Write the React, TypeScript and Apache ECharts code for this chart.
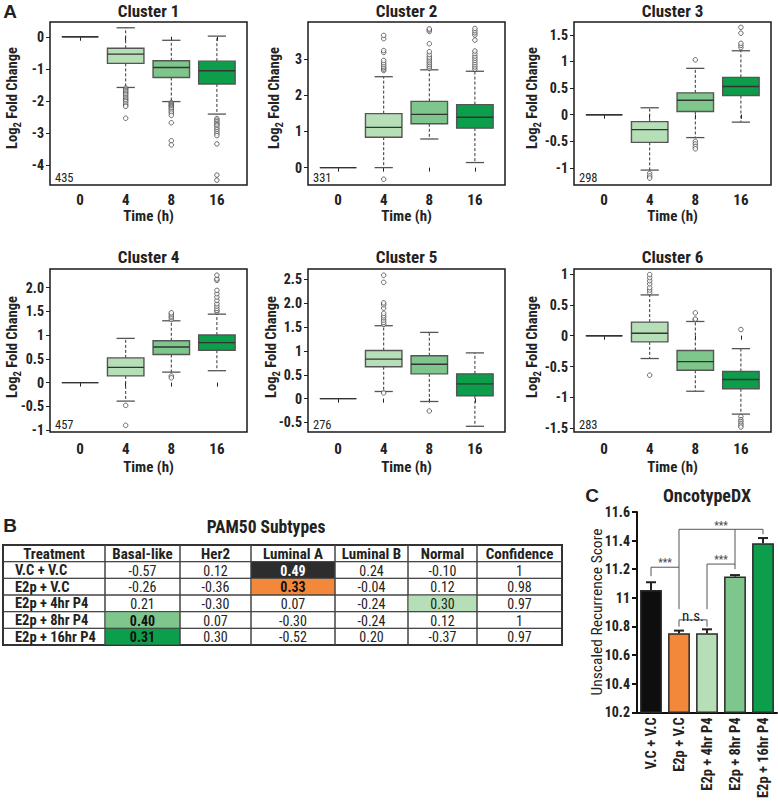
import React, { useEffect, useRef } from 'react';
import * as echarts from 'echarts';

const FONT = "'Liberation Sans Narrow', 'Arial Narrow', 'Roboto Condensed', 'DejaVu Sans Condensed', sans-serif";
const FONT_WIDE = "'Liberation Sans', Arial, sans-serif";

// ---------- Panel A data ----------
const TIMES = ['0', '4', '8', '16'];
const CLUSTER_NAMES = ['Cluster 1', 'Cluster 2', 'Cluster 3', 'Cluster 4', 'Cluster 5', 'Cluster 6'];
const CLUSTER_SIZES = [435, 331, 298, 457, 276, 283];

// [lower whisker, Q1, median, Q3, upper whisker] for 0, 4, 8, 16 h
const c1Box = [[0, 0, 0, 0, 0], [-1.58, -0.83, -0.54, -0.36, 0.28], [-2.02, -1.27, -0.96, -0.75, -0.11], [-2.41, -1.47, -1.06, -0.76, 0.02]];
const c2Box = [[0, 0, 0, 0, 0], [0.0, 0.84, 1.11, 1.49, 2.51], [0.79, 1.21, 1.47, 1.83, 2.70], [0.14, 1.09, 1.39, 1.74, 2.66]];
const c3Box = [[0, 0, 0, 0, 0], [-1.04, -0.52, -0.28, -0.13, 0.13], [-0.43, 0.06, 0.27, 0.41, 0.87], [-0.14, 0.36, 0.53, 0.70, 1.20]];
const c4Box = [[0, 0, 0, 0, 0], [-0.39, 0.14, 0.32, 0.52, 0.93], [0.22, 0.59, 0.75, 0.88, 1.30], [0.25, 0.68, 0.84, 1.00, 1.44]];
const c5Box = [[0, 0, 0, 0, 0], [0.15, 0.67, 0.83, 1.01, 1.53], [-0.06, 0.52, 0.72, 0.90, 1.39], [-0.58, 0.06, 0.31, 0.52, 0.96]];
const c6Box = [[0, 0, 0, 0, 0], [-0.37, -0.10, 0.04, 0.22, 0.66], [-0.90, -0.56, -0.42, -0.24, 0.23], [-1.27, -0.86, -0.71, -0.58, -0.21]];

// outliers for 0, 4, 8, 16 h
const c1Out = [[], [-1.60, -1.64, -1.68, -1.72, -1.76, -1.80, -1.85, -1.90, -1.94, -1.98, -2.02, -2.08, -2.13, -2.17, -2.54],
  [-2.05, -2.08, -2.11, -2.14, -2.17, -2.20, -2.24, -2.28, -2.33, -2.38, -2.45, -2.68, -3.24, -3.37],
  [-2.55, -2.60, -2.65, -2.70, -2.74, -2.78, -2.85, -2.90, -2.96, -3.02, -3.08, -3.34, -4.31, -4.47]];
const c2Out = [[], [-0.32, 2.68, 2.72, 2.76, 2.80, 2.85, 2.90, 2.96, 3.18, 3.23, 3.56, 3.65],
  [2.75, 2.80, 2.85, 2.90, 2.95, 3.00, 3.05, 3.12, 3.20, 3.42, 3.76, 3.80, 3.83],
  [2.72, 2.78, 2.84, 2.90, 2.96, 3.02, 3.08, 3.15, 3.22, 3.52, 3.66, 3.72, 3.78, 3.84]];
const c3Out = [[], [-1.10, -1.15, -1.19], [1.03, -0.50, -0.55, -0.60, -0.64], [1.26, 1.30, 1.34, 1.53, 1.64]];
const c4Out = [[], [-0.48, -0.90], [1.33, 1.37, 1.40, 1.44, 1.47, 0.14, 0.10],
  [1.49, 1.52, 1.56, 1.61, 1.66, 1.73, 1.80, 1.87, 1.94, 2.15, 2.18, 2.26]];
const c5Out = [[], [0.12, 1.56, 1.60, 1.65, 1.70, 1.74, 1.79, 1.90, 1.97, 2.01, 2.44, 2.59], [-0.26], []];
const c6Out = [[], [-0.64, 0.70, 0.74, 0.78, 0.84, 0.89, 0.94, 0.99], [0.26, 0.27, 0.37], [0.10, -1.31, -1.36, -1.39, -1.42, -1.45, -1.48]];

// y axis ranges and tick labels
const c1Range = [-4.62, 0.46];
const c2Range = [-0.48, 4.02];
const c3Range = [-1.32, 1.74];
const c4Range = [-1.04, 2.39];
const c5Range = [-0.70, 2.72];
const c6Range = [-1.56, 1.08];
const c1Ticks = [-4, -3, -2, -1, 0];
const c1TickLabels = ['-4', '-3', '-2', '-1', '0'];
const c2Ticks = [0, 1, 2, 3];
const c2TickLabels = ['0', '1', '2', '3'];
const c3Ticks = [-1, -0.5, 0, 0.5, 1, 1.5];
const c3TickLabels = ['-1', '-0.5', '0', '0.5', '1', '1.5'];
const c4Ticks = [-1, -0.5, 0, 0.5, 1, 1.5, 2];
const c4TickLabels = ['-1', '-0.5', '0', '0.5', '1', '1.5', '2.0'];
const c5Ticks = [-0.5, 0, 0.5, 1, 1.5, 2, 2.5];
const c5TickLabels = ['-0.5', '0', '0.5', '1', '1.5', '2.0', '2.5'];
const c6Ticks = [-1.5, -1, -0.5, 0, 0.5, 1];
const c6TickLabels = ['-1.5', '-1', '-0.5', '0', '0.5', '1'];

// ---------- Panel B data ----------
const TREATMENTS = ['V.C + V.C', 'E2p + V.C', 'E2p + 4hr P4', 'E2p + 8hr P4', 'E2p + 16hr P4'];
const SUBTYPES = ['Basal-like', 'Her2', 'Luminal A', 'Luminal B', 'Normal'];
const basalLike = [-0.57, -0.26, 0.21, 0.40, 0.31];
const her2 = [0.12, -0.36, -0.30, 0.07, 0.30];
const luminalA = [0.49, 0.33, 0.07, -0.30, -0.52];
const luminalB = [0.24, -0.04, -0.24, -0.24, 0.20];
const normal = [-0.10, 0.12, 0.30, 0.12, -0.37];
const confidence = [1, 0.98, 0.97, 1, 0.97];

// ---------- Panel C data ----------
const oncoMean = [11.055, 10.753, 10.753, 11.150, 11.382];
const oncoUpper = [11.109, 10.771, 10.780, 11.159, 11.418];
const ONCO_TICK_MIN = 10.2;
const ONCO_TICK_MAX = 11.6;
const ONCO_TICK_STEP = 0.2;
// significance brackets: [x1, y1, x2, y2] in (bar index, score)
const bracketSegments = [
  [0, 11.152, 0, 11.214], [0, 11.214, 1, 11.214],
  [1, 10.921, 1, 11.479], [1, 11.479, 4, 11.479], [4, 11.479, 4, 11.445],
  [3, 11.479, 3, 11.200],
  [2, 10.921, 2, 11.236], [2, 11.236, 3, 11.236],
  [1, 10.799, 1, 10.846], [1, 10.846, 2, 10.846], [2, 10.846, 2, 10.799],
];
// [from bar, to bar, score] label anchors
const sigAnchors = [[0, 1, 11.245], [2, 3, 11.265], [2, 2.8, 11.508], [1, 2, 10.875]];
const sigTexts = ['***', '***', '***', 'n.s.'];

// ---------- styles ----------
const BOX_FILL = ['#ffffff', '#b6deb7', '#7fc68d', '#0c9e4b'];
const BAR_FILL = ['#0e0e0e', '#f4883a', '#b6deb7', '#7fc68d', '#0c9e4b'];
const CELL_HIGHLIGHT = ['#2d2d2d', '#f4883a', '#b6deb7', '#7fc68d', '#0c9e4b'];
const CELL_HIGHLIGHT_TEXT = ['#ffffff', '#111111', '#222222', '#111111', '#111111'];
const CELL_HIGHLIGHT_BOLD = [true, true, false, true, true];
const COL_LEFT = [50, 308, 574];
const ROW_TOP = [22, 269];
const GRID_W = 197;
const GRID_H = 163;
const TITLE_Y = [11, 257];
const YTITLE_X = [12, 274, 532, 12, 271, 532];
const YTITLE_Y = [98, 347];
const XLABEL_MARGIN = [7, 9];
const XNAME_GAP = [23, 27];
const COL_WIDTHS = [102, 75, 71, 84, 73, 69, 85];

const CLUSTERS = [
  { box: c1Box, out: c1Out, range: c1Range, ticks: c1Ticks, labels: c1TickLabels },
  { box: c2Box, out: c2Out, range: c2Range, ticks: c2Ticks, labels: c2TickLabels },
  { box: c3Box, out: c3Out, range: c3Range, ticks: c3Ticks, labels: c3TickLabels },
  { box: c4Box, out: c4Out, range: c4Range, ticks: c4Ticks, labels: c4TickLabels },
  { box: c5Box, out: c5Out, range: c5Range, ticks: c5Ticks, labels: c5TickLabels },
  { box: c6Box, out: c6Out, range: c6Range, ticks: c6Ticks, labels: c6TickLabels },
];

let measureCtx: CanvasRenderingContext2D | null = null;
function measure(t: string, size: number, weight: string) {
  if (!measureCtx) measureCtx = document.createElement('canvas').getContext('2d');
  if (!measureCtx) return t.length * size * 0.5;
  measureCtx.font = `${weight} ${size}px ${FONT}`;
  return measureCtx.measureText(t).width;
}

function text(x: number, y: number, t: string, size: number, weight: string, extra: any = {}) {
  return {
    type: 'text', x, y, silent: true,
    style: {
      text: t, fontSize: size, fontWeight: weight, fontFamily: FONT, fill: '#222',
      align: 'center', verticalAlign: 'middle', textAlign: 'center', textVerticalAlign: 'middle', ...extra,
    },
  };
}

function subscriptTitle(cx: number, cy: number) {
  const S = 14.5, s = 10.5;
  const w1 = measure('Log', S, 'bold');
  const w2 = measure('2', s, 'bold');
  const w3 = measure(' Fold Change', S, 'bold');
  const x0 = -(w1 + w2 + w3) / 2;
  const mk = (x: number, y: number, t: string, size: number) => ({
    type: 'text', x, y, silent: true,
    style: { text: t, fontSize: size, fontWeight: 'bold', fontFamily: FONT, fill: '#222', align: 'left', textAlign: 'left', verticalAlign: 'middle', textVerticalAlign: 'middle' },
  });
  return {
    type: 'group', x: cx, y: cy, rotation: Math.PI / 2, silent: true,
    children: [mk(x0, 0, 'Log', S), mk(x0 + w1, 5, '2', s), mk(x0 + w1 + w2, 0, ' Fold Change', S)],
  };
}

function boxRender(params: any, api: any) {
  const x = api.value(0);
  const lo = api.value(1), q1 = api.value(2), med = api.value(3), q3 = api.value(4), hi = api.value(5);
  const half = 0.4, cap = 0.2;
  const p = (xx: number, v: number) => api.coord([xx, v]);
  const tl = p(x - half, q3), br = p(x + half, q1);
  const children: any[] = [];
  const dash = { stroke: '#333', lineWidth: 1, lineDash: [3, 2] };
  const solid = { stroke: '#555', lineWidth: 1.3 };
  if (hi > q3) {
    const a = p(x, q3), b = p(x, hi);
    children.push({ type: 'line', shape: { x1: a[0], y1: a[1], x2: b[0], y2: b[1] }, style: dash });
    const c1 = p(x - cap, hi), c2 = p(x + cap, hi);
    children.push({ type: 'line', shape: { x1: c1[0], y1: c1[1], x2: c2[0], y2: c2[1] }, style: solid });
  }
  if (lo < q1) {
    const a = p(x, q1), b = p(x, lo);
    children.push({ type: 'line', shape: { x1: a[0], y1: a[1], x2: b[0], y2: b[1] }, style: dash });
    const c1 = p(x - cap, lo), c2 = p(x + cap, lo);
    children.push({ type: 'line', shape: { x1: c1[0], y1: c1[1], x2: c2[0], y2: c2[1] }, style: solid });
  }
  children.push({
    type: 'rect', shape: { x: tl[0], y: tl[1], width: br[0] - tl[0], height: br[1] - tl[1] },
    style: { fill: BOX_FILL[params.dataIndex], stroke: '#555', lineWidth: 1.4 },
  });
  const m1 = p(x - half, med), m2 = p(x + half, med);
  children.push({ type: 'line', shape: { x1: m1[0], y1: m1[1], x2: m2[0], y2: m2[1] }, style: { stroke: '#333', lineWidth: 1.4 } });
  return { type: 'group', children };
}

const COL_EDGES = (() => {
  const total = COL_WIDTHS.reduce((a, b) => a + b, 0);
  const e = [0];
  COL_WIDTHS.forEach((w) => e.push(e[e.length - 1] + w / total));
  return e;
})();
const TABLE_HEADER = ['Treatment', ...SUBTYPES, 'Confidence'];
const SUBTYPE_SCORES = [basalLike, her2, luminalA, luminalB, normal];

function tableRender(params: any, api: any) {
  const c = api.value(0), r = api.value(1);
  const xl = api.coord([COL_EDGES[c], r])[0];
  const xr = api.coord([COL_EDGES[c + 1], r])[0];
  const cy = api.coord([0, r])[1];
  const h = api.size([0, 1])[1];
  let t = '', bold = false, fill = 'none', color = '#222', align = 'center', tx = (xl + xr) / 2, size = 14;
  if (r === 0) { t = TABLE_HEADER[c]; bold = true; size = 15; }
  else if (c === 0) { t = TREATMENTS[r - 1]; bold = true; align = 'left'; tx = xl + 12; size = 14.5; }
  else if (c <= SUBTYPES.length) {
    const v = SUBTYPE_SCORES[c - 1][r - 1];
    t = v.toFixed(2);
    const rowMax = Math.max(...SUBTYPE_SCORES.map((s) => s[r - 1]));
    if (v === rowMax) {
      fill = CELL_HIGHLIGHT[r - 1]; color = CELL_HIGHLIGHT_TEXT[r - 1]; bold = CELL_HIGHLIGHT_BOLD[r - 1];
    }
  } else { t = String(confidence[r - 1]); }
  return {
    type: 'group',
    children: [
      { type: 'rect', shape: { x: xl, y: cy - h / 2, width: xr - xl, height: h }, style: { fill, stroke: '#444', lineWidth: 1 } },
      {
        type: 'text', x: tx, y: cy + 0.5,
        style: { text: t, fill: color, fontSize: size, fontWeight: bold ? 'bold' : 'normal', fontFamily: FONT, align, textAlign: align, verticalAlign: 'middle', textVerticalAlign: 'middle' },
      },
    ],
  };
}

function buildOption() {
  const grid: any[] = [], xAxis: any[] = [], yAxis: any[] = [], series: any[] = [], graphics: any[] = [];
  const axisFont = { fontFamily: FONT, fontWeight: 'bold', color: '#222' };

  CLUSTERS.forEach((cl, i) => {
    const col = i % 3, row = Math.floor(i / 3);
    const left = COL_LEFT[col], top = ROW_TOP[row];
    grid.push({ left, top, width: GRID_W, height: GRID_H, show: true, borderColor: '#1a1a1a', borderWidth: 1.5, backgroundColor: 'transparent' });
    xAxis.push({
      gridIndex: i, type: 'value', min: 0.34, max: 4.66,
      name: 'Time (h)', nameLocation: 'middle', nameGap: XNAME_GAP[row],
      nameTextStyle: { ...axisFont, fontSize: 15 },
      axisLine: { show: false }, splitLine: { show: false },
      axisTick: { show: true, customValues: [1, 2, 3, 4], length: 4, lineStyle: { color: '#222', width: 1 } },
      axisLabel: { customValues: [1, 2, 3, 4], formatter: (v: number) => TIMES[Math.round(v) - 1], margin: XLABEL_MARGIN[row], fontSize: 15, ...axisFont },
    });
    yAxis.push({
      gridIndex: i, type: 'value', min: cl.range[0], max: cl.range[1],
      axisLine: { show: false }, splitLine: { show: false },
      axisTick: { show: true, customValues: cl.ticks, length: 4, lineStyle: { color: '#222', width: 1 } },
      axisLabel: {
        customValues: cl.ticks, margin: 6, fontSize: 14, ...axisFont,
        formatter: (v: number) => { const k = cl.ticks.findIndex((t) => Math.abs(t - v) < 1e-6); return k >= 0 ? cl.labels[k] : ''; },
      },
    });
    series.push({
      type: 'custom', xAxisIndex: i, yAxisIndex: i, renderItem: boxRender, silent: true, z: 3,
      encode: { x: 0, y: [1, 2, 3, 4, 5] },
      data: cl.box.map((b, k) => [k + 1, ...b]),
    });
    const pts: number[][] = [];
    cl.out.forEach((arr, k) => arr.forEach((v) => pts.push([k + 1, v])));
    series.push({
      type: 'scatter', xAxisIndex: i, yAxisIndex: i, data: pts, symbol: 'circle', symbolSize: 4.5, silent: true, z: 4,
      itemStyle: { color: '#ffffff', borderColor: '#333', borderWidth: 0.9 },
    });
    graphics.push(text(left + GRID_W / 2, TITLE_Y[row], CLUSTER_NAMES[i], 17, 'bold'));
    graphics.push(text(left + 5, top + GRID_H - 8, String(CLUSTER_SIZES[i]), 12.5, 'normal', { align: 'left', textAlign: 'left' }));
    graphics.push(subscriptTitle(YTITLE_X[i], YTITLE_Y[row]));
  });

  // ---- Panel B table ----
  const tIdx = 6;
  grid.push({ left: 3, top: 545, width: 559, height: 100, show: true, borderColor: '#222', borderWidth: 2, backgroundColor: 'transparent' });
  xAxis.push({ gridIndex: tIdx, type: 'value', min: 0, max: 1, show: false });
  yAxis.push({ gridIndex: tIdx, type: 'category', data: ['Treatment', ...TREATMENTS], inverse: true, show: false });
  const cells: number[][] = [];
  for (let r = 0; r <= TREATMENTS.length; r++) for (let c = 0; c < TABLE_HEADER.length; c++) cells.push([c, r]);
  series.push({ type: 'custom', xAxisIndex: tIdx, yAxisIndex: tIdx, renderItem: tableRender, data: cells, silent: true, z: 1 });

  // ---- Panel C bar chart ----
  const bIdx = 7;
  grid.push({ left: 637, top: 512, width: 140, height: 206 });
  xAxis.push({
    gridIndex: bIdx, type: 'category', data: TREATMENTS,
    axisLine: { show: true, lineStyle: { color: '#111', width: 2 } }, axisTick: { show: false },
    axisLabel: { rotate: 90, interval: 0, margin: 5, fontSize: 14.5, ...axisFont },
  });
  yAxis.push({
    gridIndex: bIdx, type: 'value', min: ONCO_TICK_MIN, max: ONCO_TICK_MAX, interval: ONCO_TICK_STEP,
    axisLine: { show: true, lineStyle: { color: '#111', width: 2 } }, splitLine: { show: false },
    axisTick: { show: true, length: 5, lineStyle: { color: '#111', width: 2 } },
    axisLabel: { margin: 7, fontSize: 14, ...axisFont },
  });
  series.push({
    type: 'bar', xAxisIndex: bIdx, yAxisIndex: bIdx, barWidth: '78%', silent: true, z: 2,
    data: oncoMean.map((v, i) => ({ value: v, itemStyle: { color: BAR_FILL[i], borderColor: '#2a2a2a', borderWidth: 1.5 } })),
  });
  series.push({
    type: 'custom', xAxisIndex: bIdx, yAxisIndex: bIdx, silent: true, z: 3,
    data: oncoMean.map((m, i) => [i, m, oncoUpper[i]]),
    encode: { x: 0, y: [1, 2] },
    renderItem: (params: any, api: any) => {
      const a = api.coord([api.value(0), api.value(1)]);
      const b = api.coord([api.value(0), api.value(2)]);
      return {
        type: 'group', children: [
          { type: 'line', shape: { x1: a[0], y1: a[1], x2: b[0], y2: b[1] }, style: { stroke: '#222', lineWidth: 2 } },
          { type: 'line', shape: { x1: b[0] - 5, y1: b[1], x2: b[0] + 5, y2: b[1] }, style: { stroke: '#222', lineWidth: 2 } },
        ],
      };
    },
  });
  series.push({
    type: 'custom', xAxisIndex: bIdx, yAxisIndex: bIdx, silent: true, z: 3,
    data: bracketSegments, encode: { x: [0, 2], y: [1, 3] },
    renderItem: (params: any, api: any) => {
      const a = api.coord([api.value(0), api.value(1)]);
      const b = api.coord([api.value(2), api.value(3)]);
      return { type: 'line', shape: { x1: a[0], y1: a[1], x2: b[0], y2: b[1] }, style: { stroke: '#555', lineWidth: 1 } };
    },
  });
  series.push({
    type: 'custom', xAxisIndex: bIdx, yAxisIndex: bIdx, silent: true, z: 3,
    data: sigAnchors, encode: { x: [0, 1], y: 2 },
    renderItem: (params: any, api: any) => {
      const a = api.coord([api.value(0), api.value(2)]);
      const b = api.coord([api.value(1), api.value(2)]);
      const t = sigTexts[params.dataIndex];
      const ns = t === 'n.s.';
      return {
        type: 'text', x: (a[0] + b[0]) / 2, y: a[1],
        style: { text: t, fill: ns ? '#222' : '#555', fontSize: ns ? 15 : 10, fontWeight: ns ? 'normal' : 'bold', fontFamily: FONT, align: 'center', textAlign: 'center', verticalAlign: 'middle', textVerticalAlign: 'middle' },
      };
    },
  });

  // ---- panel labels & titles ----
  graphics.push(text(10, 11, 'A', 19, 'bold', { fontFamily: FONT_WIDE }));
  graphics.push(text(10, 525, 'B', 19, 'bold', { fontFamily: FONT_WIDE }));
  graphics.push(text(592, 495, 'C', 19, 'bold', { fontFamily: FONT_WIDE }));
  graphics.push(text(266, 527, 'PAM50 Subtypes', 17.5, 'bold'));
  graphics.push(text(707, 495, 'OncotypeDX', 18, 'bold'));
  graphics.push({
    type: 'text', x: 597, y: 612, rotation: Math.PI / 2, silent: true,
    style: { text: 'Unscaled Recurrence Score', fontSize: 15.5, fontWeight: 'normal', fontFamily: FONT, fill: '#222', align: 'center', verticalAlign: 'middle', textAlign: 'center', textVerticalAlign: 'middle' },
  });

  return {
    animation: false,
    backgroundColor: '#ffffff',
    grid, xAxis, yAxis, series,
    graphic: { elements: graphics },
  };
}

export default function App() {
  const ref = useRef<HTMLDivElement>(null);
  useEffect(() => {
    if (!ref.current) return;
    const chart = echarts.init(ref.current, undefined, { renderer: 'svg' });
    chart.setOption(buildOption() as any);
    return () => chart.dispose();
  }, []);
  return <div ref={ref} style={{ position: 'absolute', left: 0, top: 0, width: 778, height: 801, background: '#fff' }} />;
}
